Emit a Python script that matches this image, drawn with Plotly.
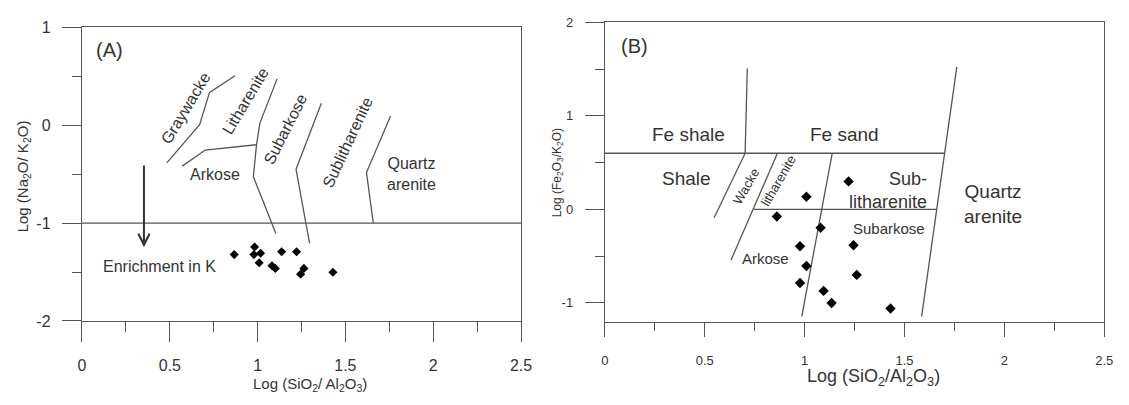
import plotly.graph_objects as go

# ---------------- data ----------------
# Panel A samples: Log(SiO2/Al2O3) vs Log(Na2O/K2O)
a_x = [0.867, 0.983, 0.979, 1.017, 1.009, 1.082, 1.101, 1.137, 1.222, 1.264, 1.245, 1.429]
a_y = [-1.322, -1.244, -1.322, -1.309, -1.406, -1.436, -1.463, -1.293, -1.293, -1.463, -1.522, -1.502]

# Panel B samples: Log(SiO2/Al2O3) vs Log(Fe2O3/K2O)
b_x = [1.220, 1.009, 0.861, 1.080, 0.977, 1.245, 1.009, 1.261, 0.977, 1.095, 1.135, 1.430]
b_y = [0.299, 0.135, -0.077, -0.196, -0.394, -0.384, -0.606, -0.701, -0.787, -0.872, -1.002, -1.060]

# Panel A field boundaries
a_gw_x = [0.483, 0.670, 0.726, 0.871]
a_gw_y = [-0.386, 0.005, 0.332, 0.504]
a_ark_x = [0.571, 0.702, 0.994]
a_ark_y = [-0.419, -0.255, -0.200]
a_lith_x = [1.111, 1.013, 0.994, 0.976, 1.104]
a_lith_y = [0.472, 0.021, -0.200, -0.526, -1.107]
a_sub_x = [1.363, 1.219, 1.296]
a_sub_y = [0.224, -0.451, -1.208]
a_qa_x = [1.757, 1.620, 1.659]
a_qa_y = [0.093, -0.484, -1.000]
a_base_x = [0.0, 2.5]
a_base_y = [-1.0, -1.0]

# Panel A arrow (tail, head)
arrow_x = [0.353, 0.353]
arrow_y = [-0.396, -1.247]

# Panel B field boundaries
b_top_x = [0.0, 1.701]
b_top_y = [0.6, 0.6]
b_fes_x = [0.713, 0.702]
b_fes_y = [1.507, 0.6]
b_shale_x = [0.702, 0.547]
b_shale_y = [0.6, -0.090]
b_wacke_x = [0.864, 0.631]
b_wacke_y = [0.6, -0.545]
b_mid_x = [0.745, 1.661]
b_mid_y = [0.0, 0.0]
b_lith_x = [1.138, 0.986]
b_lith_y = [0.6, -1.144]
b_qa_x = [1.762, 1.586]
b_qa_y = [1.524, -1.144]

# Field labels: (text, x, y, size, angle)
a_labels = [
    ("(A)", 0.158, 0.766, 20, 0),
    ("Graywacke", 0.590, 0.168, 16, -59),
    ("Litharenite", 0.933, 0.250, 16, -59),
    ("Subarkose", 1.161, -0.037, 16, -63),
    ("Sublitharenite", 1.513, -0.180, 16, -65),
    ("Quartz<br>arenite", 1.878, -0.500, 16, 0),
    ("Arkose", 0.755, -0.500, 16, 0),
    ("Enrichment in K", 0.440, -1.442, 16, 0),
]
b_labels = [
    ("(B)", 0.149, 1.747, 20, 0),
    ("Fe shale", 0.418, 0.800, 19, 0),
    ("Fe sand", 1.200, 0.796, 19, 0),
    ("Shale", 0.407, 0.334, 19, 0),
    ("Wacke", 0.708, 0.242, 13, -60),
    ("litharenite", 0.869, 0.310, 13, -60),
    ("Subarkose", 1.425, -0.203, 15, 0),
    ("Arkose", 0.806, -0.528, 15, 0),
    ("Quartz<br>arenite", 1.944, 0.053, 19, 0),
]
b_sublith = ("Sub-<br>litharenite", 1.416, 0.197, 18)

x_ticks = [0, 0.5, 1, 1.5, 2, 2.5]
x_ticktext = ["0", "0.5", "1", "1.5", "2", "2.5"]
x_minor = [0.25, 0.75, 1.25, 1.75, 2.25]
a_yticks = [-2, -1, 0, 1]
a_yticktext = ["-2", "-1", "0", "1"]
a_yminor = [-1.5, -0.5, 0.5]
b_yticks = [-1, 0, 1, 2]
b_yticktext = ["-1", "0", "1", "2"]
b_yminor = [-0.5, 0.5, 1.5]

# ---------------- figure ----------------
FONT = "Liberation Sans, Arial, sans-serif"
LINE = "#555555"
TXT = "#333333"
W, H = 1129, 405

fig = go.Figure()

def add_line(xs, ys, xa, ya):
    fig.add_trace(go.Scatter(x=xs, y=ys, mode="lines", xaxis=xa, yaxis=ya,
                             line=dict(color=LINE, width=1.3), hoverinfo="skip"))

for xs, ys in [(a_gw_x, a_gw_y), (a_ark_x, a_ark_y), (a_lith_x, a_lith_y),
               (a_sub_x, a_sub_y), (a_qa_x, a_qa_y), (a_base_x, a_base_y)]:
    add_line(xs, ys, "x", "y")

for xs, ys in [(b_top_x, b_top_y), (b_fes_x, b_fes_y), (b_shale_x, b_shale_y),
               (b_wacke_x, b_wacke_y), (b_mid_x, b_mid_y), (b_lith_x, b_lith_y),
               (b_qa_x, b_qa_y)]:
    add_line(xs, ys, "x2", "y2")

fig.add_trace(go.Scatter(x=a_x, y=a_y, mode="markers", xaxis="x", yaxis="y",
                         marker=dict(symbol="diamond", size=7, color="black")))
fig.add_trace(go.Scatter(x=b_x, y=b_y, mode="markers", xaxis="x2", yaxis="y2",
                         marker=dict(symbol="diamond", size=8, color="black")))

def note(text, x, y, xref, yref, size, angle=0, align="center"):
    return dict(text=text, x=x, y=y, xref=xref, yref=yref, showarrow=False,
                xanchor="center", yanchor="middle", textangle=angle, align=align,
                font=dict(size=size, color=TXT, family=FONT))

ann = []
for t, x, y, s, a in a_labels:
    ann.append(note(t, x, y, "x", "y", s, a))
for t, x, y, s, a in b_labels:
    ann.append(note(t, x, y, "x2", "y2", s, a))
t, x, y, s = b_sublith
ann.append(note(t, x, y, "x2", "y2", s, 0, "right"))

# arrow
ann.append(dict(text="", x=arrow_x[1], y=arrow_y[1], ax=arrow_x[0], ay=arrow_y[0],
                xref="x", yref="y", axref="x", ayref="y", showarrow=True,
                arrowhead=5, arrowsize=1.1, arrowwidth=2, arrowcolor="#333333"))

# axis titles
ann += [
    note("Log (SiO<sub>2</sub>/ Al<sub>2</sub>O<sub>3</sub>)", 310 / W, 1 - 393 / H, "paper", "paper", 15),
    note("Log (SiO<sub>2</sub>/Al<sub>2</sub>O<sub>3</sub>)", 881 / W, 1 - 386 / H, "paper", "paper", 18),
    note("Log (Na<sub>2</sub>O/ K<sub>2</sub>O)", 20 / W, 1 - 176 / H, "paper", "paper", 15, -90),
    note("Log (Fe<sub>2</sub>O<sub>3</sub>/K<sub>2</sub>O)", 561 / W, 1 - 172 / H, "paper", "paper", 12, -90),
]

def axis(domain, rng, tv, tt, mv, tl, ml, fs, anchor, standoff):
    return dict(domain=domain, range=rng, tickmode="array", tickvals=tv, ticktext=tt,
                ticks="outside", ticklen=tl, tickwidth=1.3, tickcolor=LINE,
                ticklabelstandoff=standoff,
                showline=True, linecolor=LINE, linewidth=1.3, mirror=True,
                showgrid=False, zeroline=False, anchor=anchor,
                tickfont=dict(size=fs, color=TXT, family=FONT),
                minor=dict(tickmode="array", tickvals=mv, ticks="outside", ticklen=ml,
                           tickwidth=1.3, tickcolor=LINE, showgrid=False))

fig.update_layout(
    width=W, height=H, margin=dict(l=0, r=0, t=0, b=0),
    paper_bgcolor="white", plot_bgcolor="white", showlegend=False,
    xaxis=axis([79 / W, 524 / W], [0, 2.5], x_ticks, x_ticktext, x_minor, 20, 10, 16, "y", 10),
    yaxis=axis([1 - 326.7 / H, 1 - 20 / H], [-2, 1], a_yticks, a_yticktext, a_yminor, 19, 9, 16, "x", 8),
    xaxis2=axis([609 / W, 1115 / W], [0, 2.5], x_ticks, x_ticktext, x_minor, 14, 8, 13, "y2", 13),
    yaxis2=axis([1 - 327.3 / H, 1 - 15 / H], [-1.2, 2], b_yticks, b_yticktext, b_yminor, 19, 9, 13, "x2", 9),
    annotations=ann,
)

fig.write_html("out.html")
